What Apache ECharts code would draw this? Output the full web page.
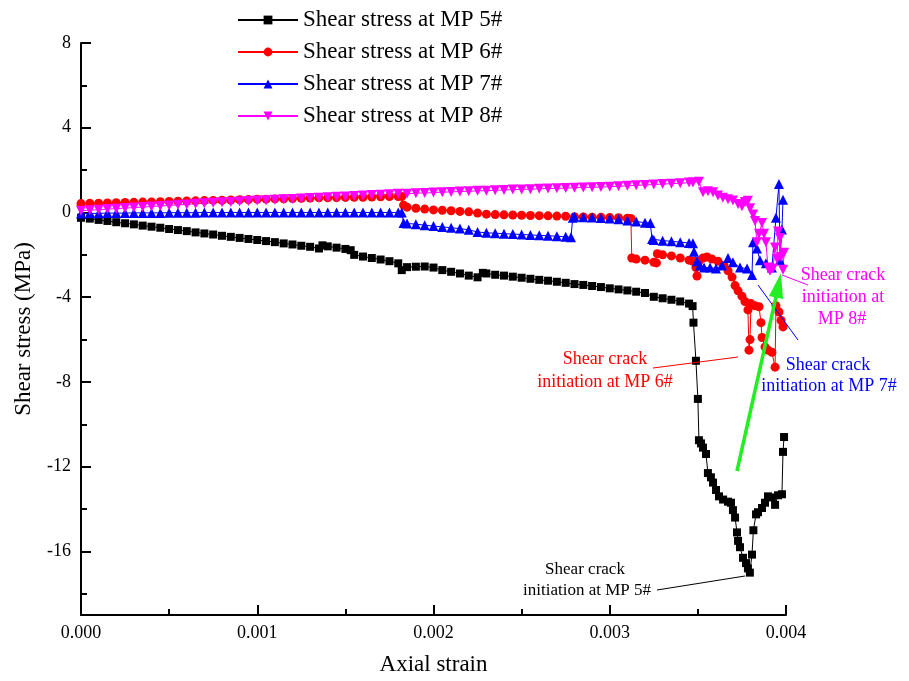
<!DOCTYPE html>
<html><head><meta charset="utf-8">
<script src="https://cdn.jsdelivr.net/npm/echarts@6/dist/echarts.min.js"></script>
<style>html,body{margin:0;padding:0;background:#fff}#c{width:909px;height:681px}</style>
</head><body><div id="c"></div>
<script>
const FONT = "'Liberation Serif','Times New Roman',serif";
const seriesNames = ['Shear stress at MP 5#','Shear stress at MP 6#','Shear stress at MP 7#','Shear stress at MP 8#'];
const xTickFormat = 3;
const yMajorTicks = [8,4,0,-4,-8,-12,-16];
const yMinorTicks = [6,2,-2,-6,-10,-14,-18];

const mp5Points = [
[0,-0.25],[0.00005,-0.29],[0.0001,-0.35],[0.00015,-0.4],[0.0002,-0.46],[0.00025,-0.51],[0.0003,-0.56],[0.00035,-0.62],
[0.0004,-0.67],[0.00045,-0.72],[0.0005,-0.78],[0.00055,-0.83],[0.0006,-0.88],[0.00065,-0.94],[0.0007,-0.99],[0.00075,-1.04],
[0.0008,-1.1],[0.00085,-1.15],[0.0009,-1.2],[0.00095,-1.25],[0.001,-1.3],[0.00105,-1.35],[0.0011,-1.4],[0.00115,-1.46],
[0.0012,-1.51],[0.00125,-1.57],[0.0013,-1.62],[0.00135,-1.7],[0.00137,-1.55],[0.0014,-1.6],[0.00145,-1.66],[0.0015,-1.72],
[0.00153,-1.78],[0.00155,-2.0],[0.0016,-2.08],[0.00165,-2.15],[0.0017,-2.22],[0.00175,-2.3],[0.0018,-2.4],[0.00182,-2.72],
[0.00185,-2.58],[0.0019,-2.56],[0.00195,-2.55],[0.002,-2.6],[0.00205,-2.72],[0.0021,-2.8],[0.00215,-2.88],[0.0022,-2.98],
[0.00225,-3.06],[0.00228,-2.85],[0.0023,-2.88],[0.00235,-2.94],[0.0024,-2.98],[0.00245,-3.03],[0.0025,-3.08],[0.00255,-3.13],
[0.0026,-3.18],[0.00265,-3.22],[0.0027,-3.27],[0.00275,-3.32],[0.0028,-3.38],[0.00285,-3.42],[0.0029,-3.47],[0.00295,-3.52],
[0.003,-3.58],[0.00305,-3.63],[0.0031,-3.68],[0.00315,-3.74],[0.0032,-3.8],[0.00325,-3.98],[0.0033,-4.05],[0.00335,-4.12],
[0.0034,-4.2],[0.00345,-4.3],[0.00347,-4.42],
[0.003475,-5.2],[0.003489,-7.0],[0.0035,-8.8],[0.003506,-10.75],[0.003518,-10.9],[0.003529,-11.1],[0.003546,-11.4],
[0.003557,-12.3],[0.003574,-12.5],[0.003586,-12.75],[0.003603,-13.1],[0.00362,-13.4],[0.003643,-13.55],[0.003671,-13.65],
[0.003688,-13.7],[0.003699,-14.05],[0.003711,-14.4],[0.003722,-15.1],[0.003728,-15.5],[0.003739,-15.8],[0.003756,-16.3],
[0.003773,-16.55],[0.003784,-16.8],[0.003795,-17.0],[0.003807,-16.15],[0.003815,-15.0],[0.00383,-14.25],[0.003841,-14.15],
[0.003864,-13.95],[0.003881,-13.7],[0.003898,-13.4],[0.00392,-13.45],[0.003938,-13.8],[0.003955,-13.35],[0.003977,-13.3],
[0.003983,-11.3],[0.003989,-10.6]
];

const mp6Points = [
[0,0.42],[0.00005,0.43],[0.0001,0.44],[0.00015,0.45],[0.0002,0.46],[0.00025,0.47],[0.0003,0.48],[0.00035,0.49],
[0.0004,0.5],[0.00045,0.51],[0.0005,0.52],[0.00055,0.53],[0.0006,0.54],[0.00065,0.55],[0.0007,0.56],[0.00075,0.57],
[0.0008,0.58],[0.00085,0.59],[0.0009,0.6],[0.00095,0.61],[0.001,0.62],[0.00105,0.63],[0.0011,0.64],[0.00115,0.65],
[0.0012,0.66],[0.00125,0.67],[0.0013,0.68],[0.00135,0.69],[0.0014,0.69],[0.00145,0.7],[0.0015,0.71],[0.00155,0.72],
[0.0016,0.72],[0.00165,0.73],[0.0017,0.74],[0.00175,0.75],[0.0018,0.75],[0.00182,0.76],[0.00183,0.35],[0.00185,0.25],
[0.0019,0.2],[0.00195,0.16],[0.002,0.12],[0.00205,0.1],[0.0021,0.08],[0.00215,0.05],[0.0022,0.03],[0.00225,-0.03],
[0.0023,-0.08],[0.00235,-0.1],[0.0024,-0.11],[0.00245,-0.12],[0.0025,-0.13],[0.00255,-0.14],[0.0026,-0.15],[0.00265,-0.16],
[0.0027,-0.17],[0.00275,-0.18],[0.0028,-0.2],[0.00285,-0.21],[0.0029,-0.22],[0.00295,-0.23],[0.003,-0.24],[0.00305,-0.25],
[0.0031,-0.27],[0.00312,-0.28],[0.003125,-2.15],[0.00315,-2.2],[0.0032,-2.25],[0.00325,-2.35],[0.003265,-2.38],[0.00327,-1.95],
[0.0033,-2.0],[0.00335,-2.05],[0.0034,-2.15],[0.00345,-2.25],[0.003472,-2.3],
[0.003489,-2.6],[0.003495,-3.0],[0.003506,-2.3],[0.003529,-2.15],[0.003552,-2.1],[0.00358,-2.2],[0.003614,-2.3],
[0.003648,-2.5],[0.003671,-2.75],[0.003694,-3.05],[0.003711,-3.45],[0.003728,-3.7],[0.00375,-3.95],[0.003767,-4.2],
[0.003784,-4.6],[0.00379,-6.5],[0.003796,-6.0],[0.003801,-4.3],[0.003824,-4.4],[0.003847,-4.45],[0.003858,-5.2],
[0.003864,-5.9],[0.003881,-6.35],[0.003898,-6.5],[0.00392,-6.6],[0.003938,-7.3],[0.003943,-4.4],[0.00396,-4.7],
[0.003972,-5.1],[0.003983,-5.4]
];

const mp7Points = [
[0,-0.05],[0.00005,-0.04],[0.0001,-0.04],[0.00015,-0.03],[0.0002,-0.03],[0.00025,-0.03],[0.0003,-0.02],[0.00035,-0.02],
[0.0004,-0.02],[0.00045,-0.02],[0.0005,-0.01],[0.00055,-0.01],[0.0006,-0.01],[0.00065,-0.01],[0.0007,0],[0.00075,0],
[0.0008,0],[0.00085,0],[0.0009,0],[0.00095,0],[0.001,0],[0.00105,0],[0.0011,0],[0.00115,0],
[0.0012,0],[0.00125,0],[0.0013,0],[0.00135,0],[0.0014,0],[0.00145,0],[0.0015,0],[0.00155,0],
[0.0016,0],[0.00165,0],[0.0017,0],[0.00175,0],[0.0018,0],[0.00182,0],[0.00183,-0.5],[0.00185,-0.52],
[0.0019,-0.55],[0.00195,-0.6],[0.002,-0.64],[0.00205,-0.68],[0.0021,-0.72],[0.00215,-0.76],[0.0022,-0.82],[0.00225,-0.92],
[0.0023,-0.96],[0.00235,-0.98],[0.0024,-1.0],[0.00245,-1.02],[0.0025,-1.04],[0.00255,-1.06],[0.0026,-1.08],[0.00265,-1.1],
[0.0027,-1.12],[0.00275,-1.15],[0.00278,-1.17],[0.00279,-0.25],[0.0028,-0.2],[0.00285,-0.22],[0.0029,-0.24],[0.00295,-0.26],
[0.003,-0.28],[0.00305,-0.32],[0.0031,-0.38],[0.00315,-0.43],[0.0032,-0.48],[0.00323,-0.5],[0.00324,-1.25],[0.00325,-1.3],
[0.0033,-1.33],[0.00335,-1.36],[0.0034,-1.4],[0.00345,-1.44],[0.003472,-1.45],
[0.003478,-1.85],[0.003495,-2.3],[0.003512,-2.5],[0.003535,-2.6],[0.003569,-2.6],[0.003603,-2.65],[0.003637,-2.5],
[0.003671,-2.15],[0.003699,-2.35],[0.003739,-2.6],[0.003779,-2.65],[0.003807,-2.95],[0.003813,-1.4],[0.003835,-1.7],
[0.003852,-2.25],[0.003886,-2.4],[0.00392,-2.6],[0.003943,-0.25],[0.00396,1.35],[0.003966,-2.25],[0.003977,-0.8],
[0.003983,0.6]
];

const mp8Points = [
[0,0.08],[0.00005,0.11],[0.0001,0.13],[0.00015,0.16],[0.0002,0.18],[0.00025,0.21],[0.0003,0.23],[0.00035,0.26],
[0.0004,0.28],[0.00045,0.31],[0.0005,0.33],[0.00055,0.36],[0.0006,0.38],[0.00065,0.41],[0.0007,0.43],[0.00075,0.46],
[0.0008,0.48],[0.00085,0.5],[0.0009,0.52],[0.00095,0.54],[0.001,0.56],[0.00105,0.58],[0.0011,0.6],[0.00115,0.62],
[0.0012,0.64],[0.00125,0.66],[0.0013,0.68],[0.00135,0.7],[0.0014,0.72],[0.00145,0.74],[0.0015,0.76],[0.00155,0.78],
[0.0016,0.8],[0.00165,0.82],[0.0017,0.84],[0.00175,0.86],[0.0018,0.88],[0.00185,0.89],[0.0019,0.91],[0.00195,0.92],
[0.002,0.94],[0.00205,0.96],[0.0021,0.97],[0.00215,0.99],[0.0022,1.0],[0.00225,1.02],[0.0023,1.03],[0.00235,1.05],
[0.0024,1.06],[0.00245,1.08],[0.0025,1.09],[0.00255,1.1],[0.0026,1.12],[0.00265,1.13],[0.0027,1.14],[0.00275,1.15],
[0.0028,1.17],[0.00285,1.18],[0.0029,1.19],[0.00295,1.2],[0.003,1.22],[0.00305,1.24],[0.0031,1.26],[0.00315,1.28],
[0.0032,1.3],[0.00325,1.32],[0.0033,1.34],[0.00335,1.36],[0.0034,1.38],[0.00345,1.41],
[0.003472,1.42],[0.003506,1.45],[0.003529,0.95],[0.003557,1.0],[0.003586,0.95],[0.003614,0.8],[0.003642,0.7],
[0.003671,0.62],[0.003699,0.56],[0.003728,0.4],[0.00375,0.3],[0.003767,0.5],[0.003784,0.55],[0.003796,0.2],
[0.003813,-0.1],[0.003824,-0.4],[0.003835,-1.4],[0.003847,-1.0],[0.003864,-0.5],[0.003875,-1.0],[0.003886,-1.4],
[0.003898,-2.6],[0.003909,-2.75],[0.003926,-2.65],[0.003938,-1.65],[0.003949,-2.2],[0.003955,-0.9],[0.003966,-1.2],
[0.003972,-2.1],[0.003983,-2.7],[0.003989,-1.9]
];

const chart = echarts.init(document.getElementById('c'), null, {renderer:'canvas'});

const axisLineStyle = {color:'#000', width:2};
function mkSeries(name, data, color, symbol, size, rotate){
  return {
    name, type:'line', data, xAxisIndex:0, yAxisIndex:0,
    symbol, symbolSize:size, symbolRotate: rotate||0,
    showAllSymbol:true,
    lineStyle:{color, width:1},
    itemStyle:{color},
    emphasis:{disabled:true},
    z: 2
  };
}

function txt(x, y, text, color, size){
  return {type:'text', x, y, style:{text, fill:color, font: size+'px '+FONT, align:'center', verticalAlign:'middle'}, z:100};
}
function seg(x1,y1,x2,y2,color,w){
  return {type:'line', shape:{x1,y1,x2,y2}, style:{stroke:color, lineWidth:w||1}, z:100};
}

const graphics = [
  txt(585,570,'Shear crack','#000',17), txt(587,591,'initiation at MP 5#','#000',17),
  seg(657,590,745,576,'#000',1),
  txt(605,359,'Shear crack','#ff0000',18), txt(605,382,'initiation at MP 6#','#ff0000',18),
  seg(653,368,738,357,'#ff0000',1),
  txt(828,365,'Shear crack','#0000ff',18), txt(829,386,'initiation at MP 7#','#0000ff',18),
  seg(758,285,798,340,'#0000ff',1),
  txt(843,275,'Shear crack','#ff00ff',18), txt(843,297,'initiation at','#ff00ff',18), txt(842,319,'MP 8#','#ff00ff',18),
  seg(782,275,808,285,'#ff00ff',1),
  seg(737,471,776,297,'#22ee22',3.5),
  {type:'polygon', shape:{points:[[781,273],[769,296],[783,299]]}, style:{fill:'#22ee22'}, z:100}
];

chart.setOption({
  animation:false,
  backgroundColor:'#fff',
  textStyle:{fontFamily:FONT},
  grid:{left:81, right:123, top:43, bottom:63, containLabel:false},
  legend:{
    orient:'vertical', left:237, top:8, padding:0, itemWidth:60, itemHeight:11, itemGap:8,
    textStyle:{fontFamily:FONT, fontSize:23, color:'#000', lineHeight:24},
    data:seriesNames
  },
  xAxis:{
    type:'value', min:0, max:0.004, interval:0.001,
    name:'Axial strain', nameLocation:'middle', nameGap:38,
    nameTextStyle:{fontFamily:FONT, fontSize:23, color:'#000'},
    axisLine:{show:true, onZero:false, lineStyle:axisLineStyle},
    axisTick:{show:true, inside:true, length:10, lineStyle:axisLineStyle},
    minorTick:{show:true, splitNumber:2, length:6, lineStyle:{color:'#000', width:2}},
    axisLabel:{fontFamily:FONT, fontSize:18, color:'#000', margin:9, formatter:v=>v.toFixed(xTickFormat)},
    splitLine:{show:false}
  },
  yAxis:[{
    type:'value', min:-19, max:8, position:'left',
    name:'Shear stress (MPa)', nameLocation:'middle', nameGap:46,
    nameTextStyle:{fontFamily:FONT, fontSize:23, color:'#000'},
    axisLine:{show:true, onZero:false, lineStyle:axisLineStyle},
    axisTick:{show:true, inside:true, length:10, lineStyle:axisLineStyle, customValues:yMajorTicks},
    axisLabel:{fontFamily:FONT, fontSize:18, color:'#000', margin:10, customValues:yMajorTicks},
    splitLine:{show:false}
  },{
    type:'value', min:-19, max:8, position:'left', offset:0,
    axisLine:{show:false},
    axisTick:{show:true, inside:true, length:6, lineStyle:axisLineStyle, customValues:yMinorTicks},
    axisLabel:{show:false, customValues:yMinorTicks},
    splitLine:{show:false}
  }],
  series:[
    mkSeries(seriesNames[0], mp5Points, '#000000', 'rect', 8),
    mkSeries(seriesNames[1], mp6Points, '#ff0000', 'circle', 9),
    mkSeries(seriesNames[2], mp7Points, '#0000ff', 'triangle', 10),
    mkSeries(seriesNames[3], mp8Points, '#ff00ff', 'triangle', 10, 180)
  ],
  graphic: graphics
});
</script></body></html>
